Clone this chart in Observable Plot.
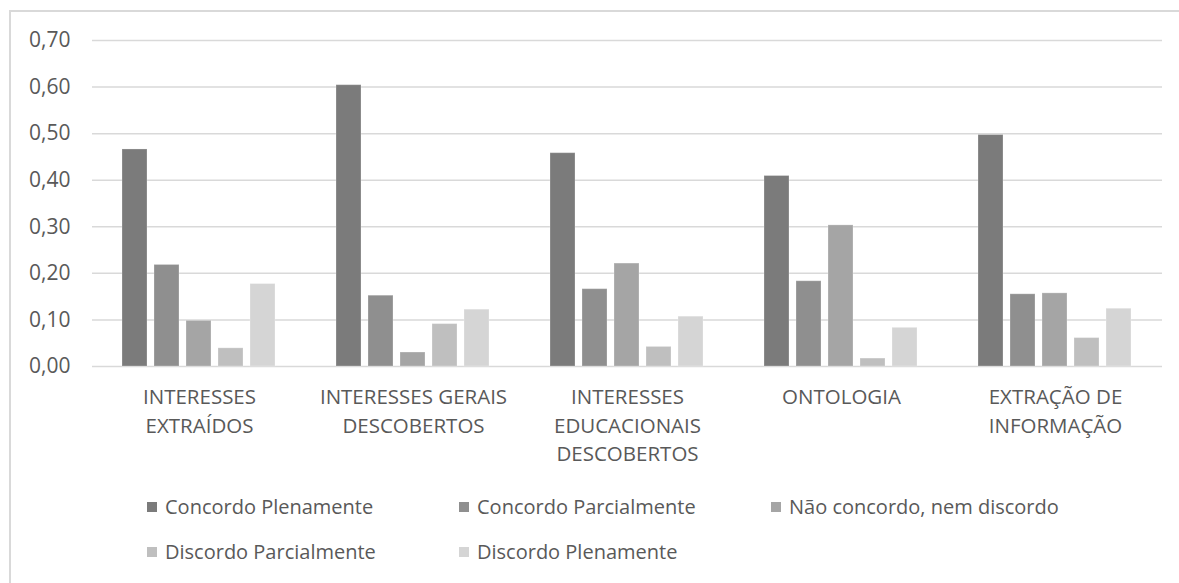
<!DOCTYPE html>
<html>
<head>
<meta charset="utf-8">
<script src="https://cdn.jsdelivr.net/npm/d3@7"></script>
<script src="https://cdn.jsdelivr.net/npm/@observablehq/plot@0.6"></script>
<style>
  html, body { margin: 0; padding: 0; background: #fff; }
  body { width: 1179px; height: 583px; overflow: hidden; position: relative; font-family: "Open Sans", sans-serif; }
  #frame { position: absolute; left: 9px; top: 10px; width: 1300px; height: 700px; border: 2px solid #d9d9d9; box-sizing: border-box; }
  #chart { position: absolute; left: 0; top: 0; }
  #legend { position: absolute; left: 0; top: 490px; width: 1179px; font-size: 20px; color: #595959; }
  .item { position: absolute; white-space: nowrap; display: flex; align-items: center; }
  .sw { width: 10px; height: 10px; margin-right: 8px; display: inline-block; }
</style>
</head>
<body>
<div id="frame"></div>
<div id="chart"></div>
<div id="legend"></div>
<script>
const categories = ["INTERESSES EXTRAÍDOS", "INTERESSES GERAIS DESCOBERTOS", "INTERESSES EDUCACIONAIS DESCOBERTOS", "ONTOLOGIA", "EXTRAÇÃO DE INFORMAÇÃO"];
const categoryLabels = ["INTERESSES\nEXTRAÍDOS", "INTERESSES GERAIS\nDESCOBERTOS", "INTERESSES\nEDUCACIONAIS\nDESCOBERTOS", "ONTOLOGIA", "EXTRAÇÃO DE\nINFORMAÇÃO"];
const series = ["Concordo Plenamente", "Concordo Parcialmente", "Não concordo, nem discordo", "Discordo Parcialmente", "Discordo Plenamente"];
const colors = ["#7b7b7b", "#8f8f8f", "#a5a5a5", "#bfbfbf", "#d5d5d5"];

const concordoPlenamente   = [0.466, 0.604, 0.458, 0.409, 0.497];
const concordoParcialmente = [0.218, 0.152, 0.166, 0.183, 0.155];
const naoConcordo          = [0.098, 0.030, 0.221, 0.303, 0.157];
const discordoParcialmente = [0.039, 0.091, 0.042, 0.017, 0.061];
const discordoPlenamente   = [0.177, 0.122, 0.107, 0.083, 0.124];

const yTicks = [0, 0.1, 0.2, 0.3, 0.4, 0.5, 0.6, 0.7];

const seriesValues = [concordoPlenamente, concordoParcialmente, naoConcordo, discordoParcialmente, discordoPlenamente];
const data = [];
categories.forEach((c, i) => series.forEach((s, j) => data.push({category: c, series: s, value: seriesValues[j][i]})));

const fmt = d => d3.format(".2f")(d).replace(".", ",");
const labelOf = c => categoryLabels[categories.indexOf(c)];

const chart = Plot.plot({
  width: 1179,
  height: 480,
  marginLeft: 91,
  marginRight: 17,
  marginTop: 40,
  marginBottom: 114,
  style: {fontFamily: "Open Sans, sans-serif", color: "#595959", background: "transparent"},
  fx: {domain: categories, padding: 0, label: null},
  x: {domain: series, paddingInner: 0.21, paddingOuter: 0.85, axis: null},
  y: {domain: [0, 0.7], label: null},
  color: {domain: series, range: colors},
  marks: [
    Plot.gridY(yTicks, {stroke: "#d9d9d9", strokeOpacity: 1, strokeWidth: 1.5}),
    Plot.axisY(yTicks, {tickFormat: fmt, tickSize: 0, tickPadding: 22, fontSize: 21, fill: "#595959", label: null}),
    Plot.axisFx({anchor: "bottom", tickFormat: labelOf, tickSize: 0, tickPadding: 18, fontSize: 20.5, lineHeight: 1.37, fill: "#595959", label: null}),
    Plot.barY(data, {fx: "category", x: "series", y: "value", fill: "series", stroke: "#ffffff", strokeOpacity: 0.25, strokeWidth: 1})
  ]
});
document.getElementById("chart").appendChild(chart);

const legend = document.getElementById("legend");
const positions = [[147, 17], [459, 17], [771, 17], [147, 62], [459, 62]];
series.forEach((s, i) => {
  const it = document.createElement("div");
  it.className = "item";
  it.style.left = positions[i][0] + "px";
  it.style.top = (positions[i][1] - 14) + "px";
  const sw = document.createElement("span");
  sw.className = "sw";
  sw.style.background = colors[i];
  it.appendChild(sw);
  it.appendChild(document.createTextNode(s));
  legend.appendChild(it);
});
</script>
</body>
</html>
